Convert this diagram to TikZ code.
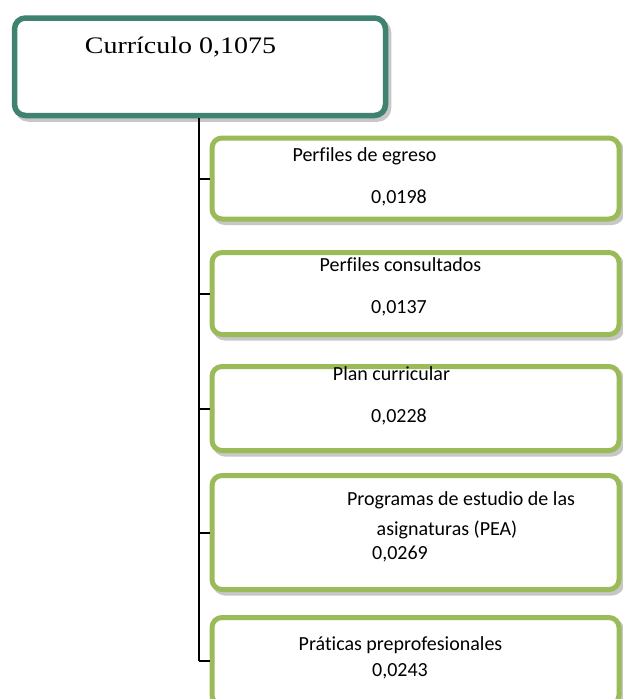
\documentclass[tikz,border=0pt]{standalone}
\usepackage{fontspec}
\setmainfont[Ligatures=NoCommon]{Carlito}
\newfontfamily\titlefont[FakeStretch=1.18]{Liberation Serif}
\usetikzlibrary{shadows}
\definecolor{topgreen}{HTML}{3F8270}
\definecolor{boxgreen}{HTML}{9BBB59}
\begin{document}
\begin{tikzpicture}[x=1pt,y=-1pt,
  topbox/.style={draw=topgreen, line width=5.5pt, rounded corners=11pt, fill=white, inner sep=0pt,
    drop shadow={shadow xshift=3pt, shadow yshift=-3.5pt, fill=black!22, draw=black!22, line width=5.5pt, opacity=1}},
  childbox/.style={draw=boxgreen, line width=5pt, rounded corners=10pt, fill=white, inner sep=0pt,
    minimum width=407pt,
    drop shadow={shadow xshift=3pt, shadow yshift=-3.5pt, fill=black!22, draw=black!22, line width=5pt, opacity=1}},
  conn/.style={draw=black, line width=2pt},
  lbl/.style={anchor=base, inner sep=0pt, font=\fontsize{20}{24}\selectfont, text=black},
  title/.style={anchor=base, inner sep=0pt, font=\titlefont\fontsize{23.7}{28}\selectfont, text=black}
]
\useasboundingbox (0,0) rectangle (623,699);
\clip (0,0) rectangle (623,699);
\fill[white] (0,0) rectangle (623,699);
% boxes
\node[topbox, minimum width=371pt, minimum height=97.5pt] (top) at (200,66.75) {};
\node[childbox, minimum height=81pt] (b1) at (415.5,178.5) {};
\node[childbox, minimum height=82pt] (b2) at (415.5,293.5) {};
\node[childbox, minimum height=84pt] (b3) at (415.5,408.5) {};
\node[childbox, minimum height=114pt] (b4) at (415.5,532.5) {};
\node[childbox, minimum height=87.5pt] (b5) at (415.5,661.25) {};
% connectors
\coordinate (tr) at (199,0);
\draw[conn] (tr |- top.south) -- (tr |- b5.west);
\draw[conn] (tr |- b1.west) -- (b1.west);
\draw[conn] (tr |- b2.west) -- (b2.west);
\draw[conn] (tr |- b3.west) -- (b3.west);
\draw[conn] (tr |- b4.west) -- (b4.west);
\draw[conn] (tr |- b5.west) -- (b5.west);
% texts
\node[title] (ttop) at (180.5,53.5) {Currículo 0,1075};
\node[lbl] (t1a) at (364.5,161.5) {Perfiles de egreso};
\node[lbl] (t1b) at (399,203.3) {0,0198};
\node[lbl] (t2a) at (400.5,271.7) {Perfiles consultados};
\node[lbl] (t2b) at (399,313.3) {0,0137};
\node[lbl] (t3a) at (391.5,380) {Plan curricular};
\node[lbl] (t3b) at (399,422.7) {0,0228};
\node[lbl] (t4a) at (461,505) {Programas de estudio de las};
\node[lbl] (t4b) at (447,535) {asignaturas (PEA)};
\node[lbl] (t4c) at (400,559.3) {0,0269};
\node[lbl] (t5a) at (400.5,650) {Práticas preprofesionales};
\node[lbl] (t5b) at (400,676.7) {0,0243};
\end{tikzpicture}
\end{document}
